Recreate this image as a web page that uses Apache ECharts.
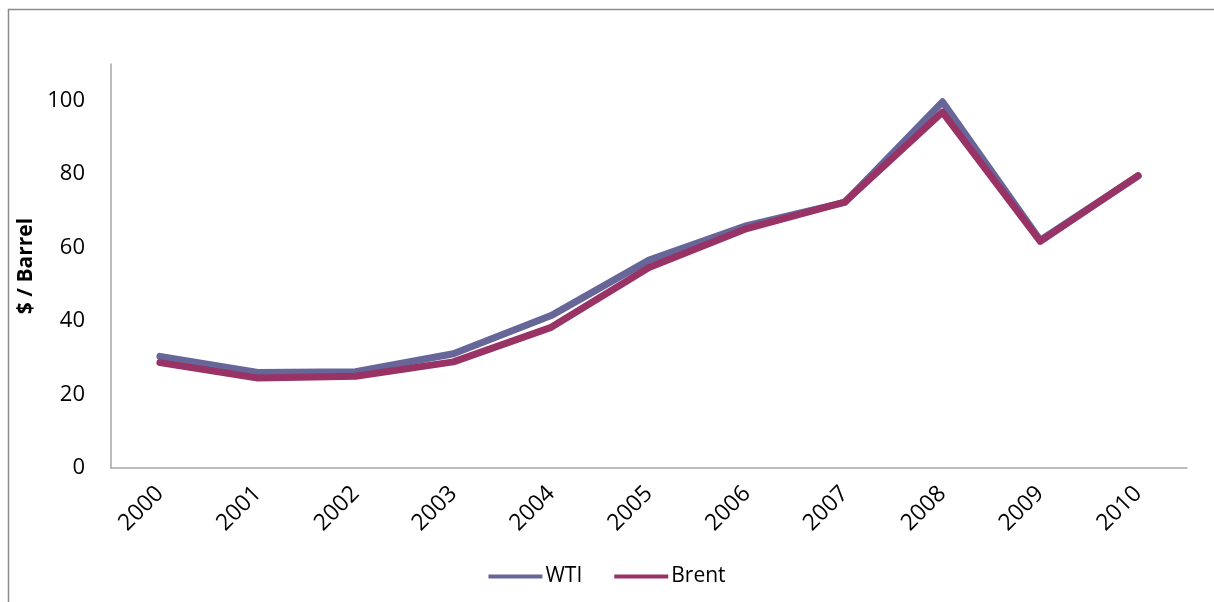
<!DOCTYPE html>
<html>
<head>
<meta charset="utf-8">
<script src="https://cdn.jsdelivr.net/npm/echarts@6/dist/echarts.min.js"></script>
<style>
  html, body { margin: 0; padding: 0; background: #fff; }
  #main { width: 1214px; height: 602px; }
</style>
</head>
<body>
<div id="main"></div>
<script>
// oil prices, annual averages
var years = ['2000', '2001', '2002', '2003', '2004', '2005', '2006', '2007', '2008', '2009', '2010'];
var wti = [30.4, 26.0, 26.2, 31.1, 41.5, 56.6, 66.0, 72.3, 99.7, 62.0, 79.5];
var brent = [28.7, 24.5, 25.0, 28.9, 38.3, 54.6, 65.2, 72.4, 96.9, 61.7, 79.6];

var chart = echarts.init(document.getElementById('main'), null, { renderer: 'canvas' });

var font = '"Open Sans", "Liberation Sans", sans-serif';

var option = {
  backgroundColor: '#fff',
  animation: false,
  textStyle: { fontFamily: font },
  graphic: [{
    type: 'rect',
    shape: { x: 8.5, y: 9.5, width: 1400, height: 800 },
    style: { fill: 'none', stroke: '#8c8c8c', lineWidth: 1.5 },
    silent: true
  }],
  grid: {
    left: 111,
    right: 27,
    top: 64,
    bottom: 134
  },
  legend: {
    bottom: 10,
    left: 'center',
    icon: 'rect',
    itemWidth: 54,
    itemHeight: 4,
    itemGap: 32,
    textStyle: { fontSize: 21, color: '#000', fontFamily: font, padding: [0, 0, 0, -2] },
    data: ['WTI', 'Brent']
  },
  xAxis: {
    type: 'category',
    data: years,
    boundaryGap: true,
    axisLine: { lineStyle: { color: '#a6a6a6', width: 1.5 } },
    axisTick: { show: false },
    axisLabel: {
      rotate: 45,
      margin: 22,
      fontSize: 23,
      color: '#000',
      fontFamily: font
    }
  },
  yAxis: {
    type: 'value',
    min: 0,
    max: 110,
    interval: 20,
    name: '$ / Barrel',
    nameLocation: 'middle',
    nameGap: 67,
    nameTextStyle: { fontSize: 21, fontWeight: 'bold', color: '#000', fontFamily: font },
    axisLine: { show: true, lineStyle: { color: '#a6a6a6', width: 1.5 } },
    axisTick: { show: false },
    splitLine: { show: false },
    axisLabel: {
      showMaxLabel: false,
      margin: 26,
      fontSize: 22,
      color: '#000',
      fontFamily: font
    }
  },
  series: [{
    name: 'WTI',
    type: 'line',
    data: wti,
    symbol: 'none',
    color: '#666699',
    lineStyle: { width: 7, color: '#666699', cap: 'round', join: 'round' }
  }, {
    name: 'Brent',
    type: 'line',
    data: brent,
    symbol: 'none',
    color: '#993366',
    lineStyle: { width: 7, color: '#993366', cap: 'round', join: 'round' }
  }]
};

chart.setOption(option);
</script>
</body>
</html>
